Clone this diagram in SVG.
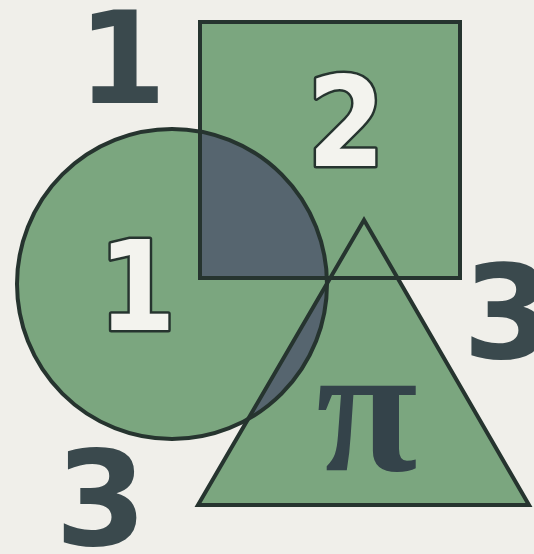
<svg xmlns="http://www.w3.org/2000/svg" width="534" height="554" viewBox="0 0 534 554">
<style>
.shape{fill:#7ba67f}
.line{fill:none;stroke:#26342f;stroke-width:4;stroke-linejoin:miter}
.over{fill:#56656f}
.big{font-family:"DejaVu Sans",sans-serif;font-weight:bold;fill:#3a494d;text-anchor:middle}
.inner{font-family:"DejaVu Sans Condensed","DejaVu Sans",sans-serif;font-weight:bold;fill:#f3f3ee;stroke:#26342f;stroke-width:5;paint-order:stroke;text-anchor:middle;stroke-linejoin:round}
</style>
<defs>
<clipPath id="clipSq"><rect x="200" y="22" width="260" height="256"/></clipPath>
<clipPath id="clipTri"><polygon points="364,220 198,505 529,505"/></clipPath>
</defs>
<rect width="534" height="554" fill="#f0efea"/>
<g id="square"><rect class="shape" x="200" y="22" width="260" height="256"/></g>
<g id="triangle"><polygon class="shape" points="364,220 198,505 529,505"/></g>
<g id="circle"><circle class="shape" cx="172" cy="284" r="155"/></g>
<g id="overlaps">
<circle class="over" cx="172" cy="284" r="155" clip-path="url(#clipSq)"/>
<circle class="over" cx="172" cy="284" r="155" clip-path="url(#clipTri)"/>
</g>
<g id="outlines">
<rect class="line" x="200" y="22" width="260" height="256"/>
<polygon class="line" points="364,220 198,505 529,505"/>
<circle class="line" cx="172" cy="284" r="155"/>
</g>
<g id="labels">
<text class="big" x="122" y="103" font-size="128" font-family="DejaVu Sans Condensed, DejaVu Sans, sans-serif">1</text>
<text class="big" x="508" y="358" font-size="130">3</text>
<text class="big" x="101" y="545" font-size="132">3</text>
<text class="inner" x="137" y="330" font-size="124">1</text>
<text class="inner" x="346" y="166" font-size="124">2</text>
<text x="367" y="470" font-size="185" font-weight="bold" font-family="Liberation Serif, serif" fill="#34434a" text-anchor="middle">π</text>
</g>
</svg>
